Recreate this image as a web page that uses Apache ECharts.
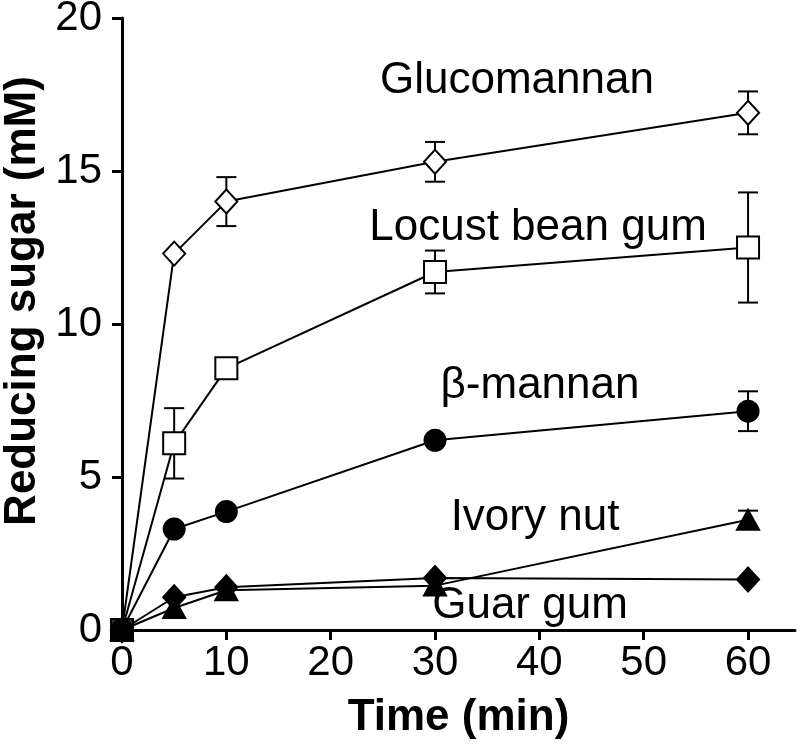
<!DOCTYPE html>
<html>
<head>
<meta charset="utf-8">
<script src="https://cdn.jsdelivr.net/npm/echarts@6/dist/echarts.min.js"></script>
<style>html,body{margin:0;padding:0;background:#fff}#c{width:800px;height:745px}</style>
</head>
<body>
<div id="c"></div>
<script>
const times = [0, 5, 10, 30, 60];
const glucomannan = [0, 12.3, 14.0, 15.3, 16.9];
const locustBeanGum = [0, 6.1, 8.55, 11.7, 12.5];
const betaMannan = [0, 3.3, 3.87, 6.2, 7.15];
const ivoryNut = [0, 0.72, 1.3, 1.45, 3.6];
const guarGum = [0, 1.07, 1.4, 1.7, 1.65];

const glucomannanErr = [0, 0, 0.8, 0.65, 0.7];
const locustBeanGumErr = [0, 1.15, 0.3, 0.7, 1.8];
const betaMannanErr = [0, 0, 0, 0, 0.65];
const ivoryNutErr = [0, 0, 0, 0, 0.3];
const guarGumErr = [0, 0, 0, 0, 0];

const seriesNames = ['Glucomannan', 'Locust bean gum', 'β-mannan', 'Ivory nut', 'Guar gum'];
const xTicks = [0, 10, 20, 30, 40, 50, 60];
const yTicks = [0, 5, 10, 15, 20];

const FONT = '"Liberation Sans", Arial, sans-serif';
const chart = echarts.init(document.getElementById('c'));

function pairs(vals) { return times.map((t, i) => [t, vals[i]]); }
function errData(vals, errs) {
  const out = [];
  times.forEach((t, i) => { if (errs[i] > 0) out.push([t, vals[i] - errs[i], vals[i] + errs[i]]); });
  return out;
}
function errSeries(vals, errs) {
  return {
    type: 'custom', z: 1, silent: true,
    data: errData(vals, errs),
    renderItem: function (params, api) {
      const lo = api.coord([api.value(0), api.value(1)]);
      const hi = api.coord([api.value(0), api.value(2)]);
      const w = 10;
      const st = { stroke: '#000', lineWidth: 2 };
      return { type: 'group', children: [
        { type: 'line', shape: { x1: lo[0], y1: lo[1], x2: hi[0], y2: hi[1] }, style: st },
        { type: 'line', shape: { x1: hi[0] - w, y1: hi[1], x2: hi[0] + w, y2: hi[1] }, style: st },
        { type: 'line', shape: { x1: lo[0] - w, y1: lo[1], x2: lo[0] + w, y2: lo[1] }, style: st }
      ]};
    }
  };
}
function lineSeries(name, vals, symbol, size, filled) {
  return {
    name: name, type: 'line', z: 3, data: pairs(vals),
    symbol: symbol, symbolSize: size, showAllSymbol: true,
    lineStyle: { color: '#000', width: 2 },
    itemStyle: { color: filled ? '#000' : '#fff', borderColor: '#000', borderWidth: 2, opacity: 1 },
    emphasis: { disabled: true }, animation: false
  };
}

const labelPos = [[517, 81], [538, 228], [540, 386], [535, 518], [530, 606]];

chart.setOption({
  animation: false,
  grid: { left: 122, top: 18, right: 5, bottom: 115, containLabel: false, outerBoundsMode: 'none' },
  xAxis: {
    type: 'value', min: 0, max: 64.5, interval: 10,
    name: 'Time (min)', nameLocation: 'middle', nameGap: 66,
    nameTextStyle: { fontFamily: FONT, fontSize: 44, fontWeight: 'bold', color: '#000' },
    axisLine: { show: true, onZero: false, lineStyle: { color: '#000', width: 3 } },
    axisTick: { show: true, length: 10, lineStyle: { color: '#000', width: 3 } },
    axisLabel: { fontFamily: FONT, fontSize: 42, color: '#000', margin: 12, showMaxLabel: false,
      formatter: v => xTicks.includes(v) ? String(v) : '' },
    splitLine: { show: false }
  },
  yAxis: {
    type: 'value', min: 0, max: 20, interval: 5,
    name: 'Reducing sugar (mM)', nameLocation: 'middle', nameGap: 76, nameRotate: 90,
    nameTextStyle: { fontFamily: FONT, fontSize: 44, fontWeight: 'bold', color: '#000', padding: [0, 0, 0, 46] },
    axisLine: { show: true, onZero: false, lineStyle: { color: '#000', width: 3 } },
    axisTick: { show: true, length: 10, lineStyle: { color: '#000', width: 3 } },
    axisLabel: { fontFamily: FONT, fontSize: 42, color: '#000', margin: 20,
      formatter: v => yTicks.includes(v) ? String(v) : '' },
    splitLine: { show: false }
  },
  graphic: seriesNames.map((n, i) => ({
    type: 'text', z: 10,
    x: labelPos[i][0], y: labelPos[i][1],
    style: { text: n, font: '44px ' + FONT, fill: '#000', textAlign: 'center', textVerticalAlign: 'middle' }
  })),
  series: [
    errSeries(glucomannan, glucomannanErr),
    errSeries(locustBeanGum, locustBeanGumErr),
    errSeries(betaMannan, betaMannanErr),
    errSeries(ivoryNut, ivoryNutErr),
    lineSeries(seriesNames[0], glucomannan, 'diamond', [22, 24], false),
    lineSeries(seriesNames[1], locustBeanGum, 'rect', [22, 22], false),
    lineSeries(seriesNames[2], betaMannan, 'circle', 21, true),
    lineSeries(seriesNames[3], ivoryNut, 'triangle', [22, 20], true),
    lineSeries(seriesNames[4], guarGum, 'diamond', [22, 24], true),
    { type: 'scatter', z: 5, data: [[times[0], 0]], symbol: 'rect', symbolSize: 22,
      itemStyle: { color: '#000' }, silent: true }
  ]
});
</script>
</body>
</html>
